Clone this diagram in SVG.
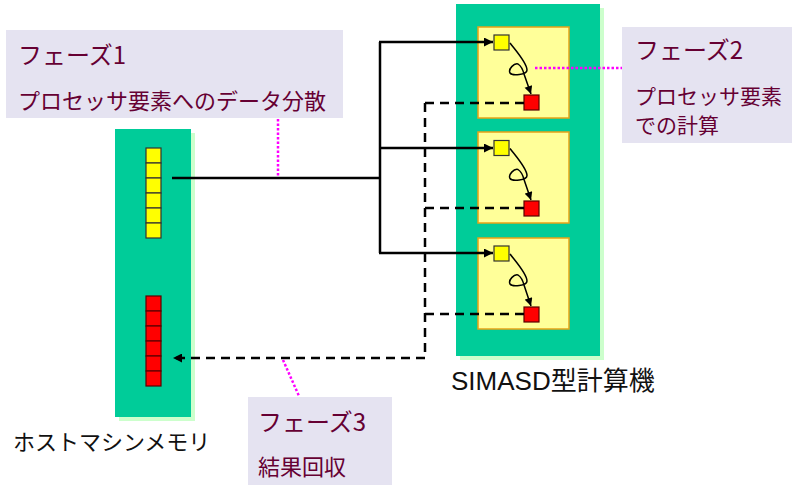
<svg xmlns="http://www.w3.org/2000/svg" width="792" height="485" viewBox="0 0 792 485">
  <defs>
    <marker id="arrow" viewBox="0 0 10 10" refX="10" refY="5" markerWidth="11" markerHeight="9" markerUnits="userSpaceOnUse" orient="auto">
      <path d="M0,0 L10,5 L0,10 Z" fill="#000"/>
    </marker>
    <marker id="arrow-small" viewBox="0 0 10 10" refX="10" refY="5" markerWidth="9" markerHeight="8" markerUnits="userSpaceOnUse" orient="auto">
      <path d="M0,0 L10,5 L0,10 Z" fill="#000"/>
    </marker>
  </defs>
  <style>
    .panel { fill: #00cc99; }
    .shadow { fill: #ccffcc; }
    .pe { fill: #ffff99; stroke: #e8a317; stroke-width: 1.5; }
    .in { fill: #ffff00; stroke: #333; stroke-width: 1.2; }
    .out { fill: #ff0000; stroke: #5a0000; stroke-width: 1.2; }
    .note { fill: #e5e3f1; }
    .solid { fill: none; stroke: #000; stroke-width: 2.5; }
    .dash { fill: none; stroke: #000; stroke-width: 2.5; stroke-dasharray: 9 6; }
    .loop { fill: none; stroke: #000; stroke-width: 1.5; }
    .dot { fill: none; stroke: #ff00ff; stroke-width: 2.5; stroke-dasharray: 2.5 2; }
    .jp { font-family: "Noto Sans CJK JP", "Noto Sans", sans-serif; }
    .title { fill: #660033; font-size: 24px; }
    .sub { fill: #660033; font-size: 22px; }
    .sub2 { fill: #660033; font-size: 21px; }
    .cap { fill: #111; font-size: 22px; }
    .cap2 { fill: #111; font-size: 26px; font-family: "Liberation Sans", "Noto Sans CJK JP", sans-serif; }
  </style>

  <!-- host machine memory -->
  <g id="host-memory">
    <rect class="shadow" x="119" y="133" width="76" height="288"/>
    <rect class="panel" x="115" y="129" width="76" height="288"/>
    <g id="host-input">
      <rect class="in" x="146" y="148" width="15" height="15"/>
      <rect class="in" x="146" y="163" width="15" height="15"/>
      <rect class="in" x="146" y="178" width="15" height="15"/>
      <rect class="in" x="146" y="193" width="15" height="15"/>
      <rect class="in" x="146" y="208" width="15" height="15"/>
      <rect class="in" x="146" y="223" width="15" height="15"/>
    </g>
    <g id="host-output">
      <rect class="out" x="146" y="296" width="15" height="15"/>
      <rect class="out" x="146" y="311" width="15" height="15"/>
      <rect class="out" x="146" y="326" width="15" height="15"/>
      <rect class="out" x="146" y="341" width="15" height="15"/>
      <rect class="out" x="146" y="356" width="15" height="15"/>
      <rect class="out" x="146" y="371" width="15" height="15"/>
    </g>
    <text class="jp cap" x="13" y="450">ホストマシンメモリ</text>
  </g>

  <!-- SIMD machine -->
  <g id="simd-machine">
    <rect class="shadow" x="460" y="8" width="144" height="352"/>
    <rect class="panel" x="456" y="4" width="144" height="352"/>
    <text class="cap2" x="451" y="390">SIMASD型計算機</text>
  </g>

  <g id="pe1">
    <rect class="pe" x="478" y="27" width="91" height="91"/>
    <rect class="in" x="494" y="35" width="15" height="15"/>
    <rect class="out" x="524" y="95" width="15" height="15"/>
  </g>
  <g id="pe2">
    <rect class="pe" x="478" y="132" width="91" height="91"/>
    <rect class="in" x="494" y="140.5" width="15" height="15"/>
    <rect class="out" x="524" y="201" width="15" height="15"/>
  </g>
  <g id="pe3">
    <rect class="pe" x="478" y="238" width="91" height="91"/>
    <rect class="in" x="494" y="246" width="15" height="15"/>
    <rect class="out" x="524" y="307" width="15" height="15"/>
  </g>

  <!-- connectors -->
  <g id="connectors">
    <!-- distribution (solid) -->
    <path class="solid" d="M172,178 H380"/>
    <path class="solid" d="M380,42 V253"/>
    <path class="solid" d="M379,42 H493" marker-end="url(#arrow)"/>
    <path class="solid" d="M379,148 H493" marker-end="url(#arrow)"/>
    <path class="solid" d="M379,253 H493" marker-end="url(#arrow)"/>

    <!-- local computation loops -->
    <path class="loop" d="M510,43 C517,52 527,63 527,70 C527,75 512,76 510,73 C508,69 514,63 518,64 C521,66 523,70 524,74 L531,94" marker-end="url(#arrow-small)"/>
    <path class="loop" d="M510,148.5 C517,157.5 527,168.5 527,175.5 C527,180.5 512,181.5 510,178.5 C508,174.5 514,168.5 518,169.5 C521,171.5 523,175.5 524,179.5 L531,200" marker-end="url(#arrow-small)"/>
    <path class="loop" d="M510,254 C517,263 527,274 527,281 C527,286 512,287 510,284 C508,280 514,274 518,275 C521,277 523,281 524,285 L531,306" marker-end="url(#arrow-small)"/>

    <!-- collection (dashed) -->
    <path class="dash" d="M524,103 H425"/>
    <path class="dash" d="M524,208 H425"/>
    <path class="dash" d="M524,314 H425"/>
    <path class="dash" d="M425,103 V358"/>
    <path class="dash" d="M425,358 H173" marker-end="url(#arrow)"/>

    <!-- callout leaders -->
    <path class="dot" d="M278,119 V177"/>
    <path class="dot" d="M535,68 H622"/>
    <path class="dot" d="M283,360 L299,396"/>
  </g>

  <!-- phase notes -->
  <g id="phase1">
    <rect class="note" x="6" y="30" width="337" height="88"/>
    <text class="jp title" x="18" y="64">フェーズ1</text>
    <text class="jp sub" x="18" y="109">プロセッサ要素へのデータ分散</text>
  </g>
  <g id="phase2">
    <rect class="note" x="622" y="27" width="170" height="116"/>
    <text class="jp title" x="635" y="59">フェーズ2</text>
    <text class="jp sub2" x="635" y="104">プロセッサ要素</text>
    <text class="jp sub2" x="635" y="133">での計算</text>
  </g>
  <g id="phase3">
    <rect class="note" x="248" y="397" width="144" height="88"/>
    <text class="jp title" x="258" y="431">フェーズ3</text>
    <text class="jp sub" x="258" y="475">結果回収</text>
  </g>
</svg>
